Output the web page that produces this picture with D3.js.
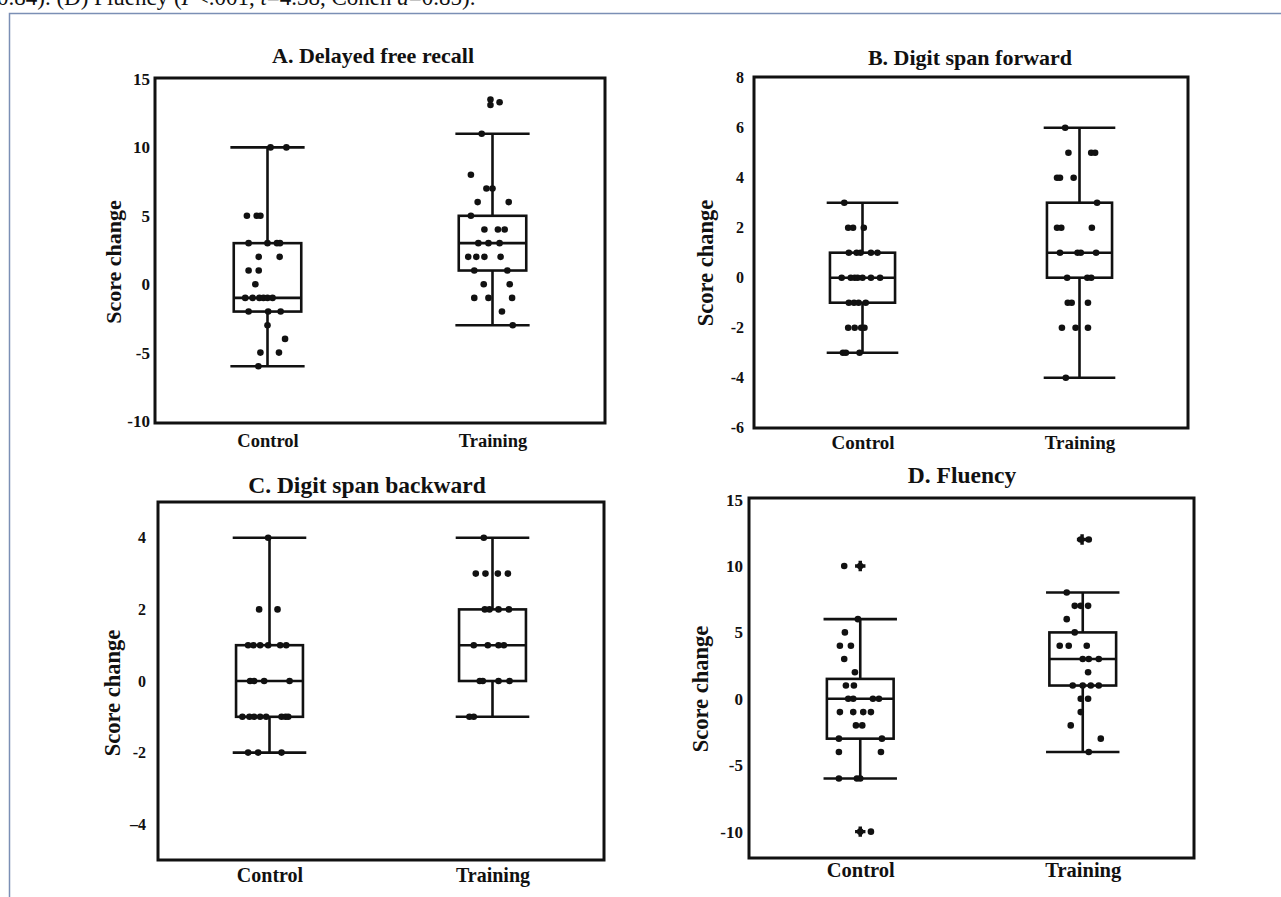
<!DOCTYPE html>
<html>
<head>
<meta charset="utf-8">
<script src="https://cdn.jsdelivr.net/npm/d3@7"></script>
<style>
  body { margin: 0; background: #fff; }
  svg { display: block; font-family: "Liberation Serif", "Times New Roman", serif; }
</style>
</head>
<body>
<script>
const width = 1281;
const height = 897;
const ink = "#111";

const groups = ["Control", "Training"];
const titles = ["A. Delayed free recall", "B. Digit span forward", "C. Digit span backward", "D. Fluency"];
const yLabel = "Score change";

// box stats per group: [min, q1, median, q3, max]
// jitter is in units of half a box width
const recallTicks = [-10, -5, 0, 5, 10, 15];
const recallTickLabels = ["-10", "-5", "0", "5", "10", "15"];
const recallStats = [[-6, -2, -1, 3, 10], [-3, 1, 3, 5, 11]];
const recallControl = [10, 10, 5, 5, 5, 3, 3, 3, 3, 2, 2, 1, 1, 0, -1, -1, -1, -1, -1, -1, -2, -2, -2, -3, -4, -5, -5, -6];
const recallControlJitter = [0.09, 0.56, -0.61, -0.32, -0.21, -0.56, 0, 0.28, 0.37, -0.26, 0.36, -0.56, -0.26, -0.36, -0.66, -0.44, -0.24, -0.12, 0, 0.15, -0.56, 0.02, 0.39, 0, 0.52, -0.21, 0.34, -0.27];
const recallTraining = [13.1, 13.5, 13.3, 11, 8, 7, 7, 6, 6, 5, 4, 4, 4, 3, 3, 3, 2, 2, 2, 2, 1, 1, 0, 0, -1, -1, -1, -2, -3];
const recallTrainingJitter = [-0.06, -0.06, 0.21, -0.32, -0.64, -0.18, 0, -0.44, 0.48, -0.64, -0.24, 0.16, 0.36, -0.42, -0.12, 0.21, -0.72, -0.48, -0.24, 0.24, -0.54, 0.44, -0.26, 0.51, -0.54, -0.12, 0.58, 0.28, 0.6];

const forwardTicks = [-6, -4, -2, 0, 2, 4, 6, 8];
const forwardTickLabels = ["-6", "-4", "-2", "0", "2", "4", "6", "8"];
const forwardStats = [[-3, -1, 0, 1, 3], [-4, 0, 1, 3, 6]];
const forwardControl = [3, 2, 2, 2, 1, 1, 1, 1, 1, 0, 0, 0, 0, 0, 0, 0, -1, -1, -1, -1, -2, -2, -2, -2, -3, -3, -3];
const forwardControlJitter = [-0.56, -0.44, -0.29, 0.04, -0.42, -0.18, -0.06, 0.26, 0.46, -0.64, -0.36, -0.24, -0.15, 0, 0.26, 0.54, -0.42, -0.26, -0.12, 0.1, -0.44, -0.24, -0.04, 0.06, -0.6, -0.51, -0.09];
const forwardTraining = [6, 5, 5, 5, 4, 4, 4, 3, 2, 2, 2, 1, 1, 1, 1, 0, 0, 0, -1, -1, -1, -2, -2, -2, -4];
const forwardTrainingJitter = [-0.44, -0.34, 0.36, 0.48, -0.69, -0.6, -0.18, 0.54, -0.69, -0.56, 0.38, -0.6, -0.06, 0.04, 0.51, -0.38, 0.24, 0.36, -0.36, -0.24, 0.26, -0.54, -0.12, 0.26, -0.42];

const backwardTicks = [-4, -2, 0, 2, 4];
const backwardTickLabels = ["\u20134", "-2", "0", "2", "4"];
const backwardStats = [[-2, -1, 0, 1, 4], [-1, 0, 1, 2, 4]];
const backwardControl = [4, 2, 2, 1, 1, 1, 1, 1, 1, 0, 0, 0, 0, -1, -1, -1, -1, -1, -1, -1, -1, -2, -2, -2];
const backwardControlJitter = [-0.04, -0.31, 0.24, -0.64, -0.48, -0.28, -0.04, 0.32, 0.5, -0.58, -0.46, -0.16, 0.6, -0.81, -0.6, -0.46, -0.28, -0.1, 0.36, 0.48, 0.56, -0.64, -0.34, 0.36];
const backwardTraining = [4, 3, 3, 3, 3, 2, 2, 2, 2, 1, 1, 1, 1, 0, 0, 0, 0, -1, -1];
const backwardTrainingJitter = [-0.26, -0.5, -0.21, 0.16, 0.46, -0.23, -0.09, 0.18, 0.49, -0.56, -0.14, 0.18, 0.34, -0.38, -0.29, 0.18, 0.51, -0.69, -0.56];

const fluencyTicks = [-10, -5, 0, 5, 10, 15];
const fluencyTickLabels = ["-10", "-5", "0", "5", "10", "15"];
const fluencyStats = [[-6, -3, 0, 1.5, 6], [-4, 1, 3, 5, 8]];
const fluencyControl = [10, 10, 6, 5, 4, 4, 3, 2, 1, 1, 0, 0, 0, 0, -1, -1, -1, -1, -2, -2, -3, -3, -4, -4, -6, -6, -6, -10, -10];
const fluencyControlJitter = [-0.48, 0, -0.07, -0.46, -0.61, -0.28, -0.48, -0.16, -0.43, -0.19, -0.36, -0.21, 0.38, 0.56, -0.61, -0.21, 0.09, 0.32, -0.13, 0.06, -0.64, 0.65, -0.64, 0.62, -0.64, -0.1, 0, 0, 0.32];
const fluencyTraining = [12, 12, 8, 7, 7, 7, 6, 5, 4, 4, 4, 3, 3, 3, 2, 1, 1, 1, 1, 0, 0, -1, -2, -3, -4];
const fluencyTrainingJitter = [-0.06, 0.18, -0.48, -0.24, -0.06, 0.16, -0.48, -0.24, -0.69, -0.42, 0.12, 0, 0.18, 0.48, 0.16, -0.3, 0, 0.24, 0.48, -0.06, 0.16, -0.06, -0.36, 0.54, 0.18];
const fluencyOutControl = [10, -10];
const fluencyOutControlJitter = [0, 0];
const fluencyOutTraining = [12];
const fluencyOutTrainingJitter = [-0.02];

// layout of the four panels (pixels)
const layout = [
    {x0: 155, x1: 605, y0: 78, y1: 423, domain: [-10, 15], range: [421, 79], tickGap: 5, tickFont: 17,
        title: [373, 63, 22], ylab: [121, 262, 22], xPad: 11, xFont: 18.5},
    {x0: 754, x1: 1188, y0: 77, y1: 428, domain: [-6, 8], range: [427.7, 77.7], tickGap: 10, tickFont: 16,
        title: [970, 65, 22], ylab: [713, 263, 22.5], xPad: 8, xFont: 19},
    {x0: 158, x1: 604, y0: 502, y1: 860, domain: [-5, 5], range: [860, 502], tickGap: 12, tickFont: 16,
        title: [367, 493, 23.5], ylab: [120, 693, 22.5], xPad: 8, xFont: 20},
    {x0: 749, x1: 1194, y0: 498, y1: 858, domain: [-12, 15], range: [858.2, 499.6], tickGap: 6, tickFont: 17,
        title: [962, 483, 23.5], ylab: [708, 689, 22.5], xPad: 4, xFont: 20.5}
];

const panels = [
    {ticks: recallTicks, tickLabels: recallTickLabels, stats: recallStats,
        values: [recallControl, recallTraining], jitter: [recallControlJitter, recallTrainingJitter]},
    {ticks: forwardTicks, tickLabels: forwardTickLabels, stats: forwardStats,
        values: [forwardControl, forwardTraining], jitter: [forwardControlJitter, forwardTrainingJitter]},
    {ticks: backwardTicks, tickLabels: backwardTickLabels, stats: backwardStats,
        values: [backwardControl, backwardTraining], jitter: [backwardControlJitter, backwardTrainingJitter]},
    {ticks: fluencyTicks, tickLabels: fluencyTickLabels, stats: fluencyStats,
        values: [fluencyControl, fluencyTraining], jitter: [fluencyControlJitter, fluencyTrainingJitter],
        outliers: [fluencyOutControl, fluencyOutTraining], outJitter: [fluencyOutControlJitter, fluencyOutTrainingJitter]}
];

let svg = d3.select("body").append("svg")
    .attr("width", width)
    .attr("height", height);

svg.append("rect")
    .attr("width", width)
    .attr("height", height)
    .attr("fill", "#fff");

// caption line from the page above the figure, clipped by the top edge as in the scan
let caption = svg.append("text")
    .attr("x", -3)
    .attr("y", 5)
    .attr("font-size", 23)
    .attr("fill", ink);
caption.append("tspan").text("0.84). (D) Fluency (");
caption.append("tspan").attr("font-style", "italic").text("P");
caption.append("tspan").text("<.001, ");
caption.append("tspan").attr("font-style", "italic").text("t");
caption.append("tspan").text("=4.38, Cohen ");
caption.append("tspan").attr("font-style", "italic").text("d");
caption.append("tspan").text("=0.85).");

// figure border
svg.append("path")
    .attr("d", `M9.5,${height}V13.5H${width}`)
    .attr("fill", "none")
    .attr("stroke", "#7b8fb5")
    .attr("stroke-width", 1.5);

panels.forEach((p, i) => drawPanel(p, layout[i], titles[i]));

function drawPanel(p, L, title) {
    let g = svg.append("g");

    let x = d3.scalePoint()
        .domain(groups)
        .range([L.x0, L.x1])
        .padding(0.5);
    let y = d3.scaleLinear()
        .domain(L.domain)
        .range(L.range);

    const boxW = x.step() * 0.3;
    const capW = x.step() * 0.165;

    g.append("text")
        .attr("x", L.title[0])
        .attr("y", L.title[1])
        .attr("text-anchor", "middle")
        .attr("font-weight", "bold")
        .attr("font-size", L.title[2])
        .attr("fill", ink)
        .text(title);

    g.append("text")
        .attr("transform", `translate(${L.ylab[0]},${L.ylab[1]})rotate(-90)`)
        .attr("text-anchor", "middle")
        .attr("font-weight", "bold")
        .attr("font-size", L.ylab[2])
        .attr("fill", ink)
        .text(yLabel);

    let yAxis = g.append("g")
        .attr("transform", `translate(${L.x0},0)`)
        .call(d3.axisLeft(y)
            .tickValues(p.ticks)
            .tickFormat((d, k) => p.tickLabels[k])
            .tickSize(0)
            .tickPadding(L.tickGap));
    yAxis.select(".domain").remove();
    yAxis.selectAll("text")
        .attr("font-family", "Liberation Serif, serif")
        .attr("font-weight", "bold")
        .attr("font-size", L.tickFont)
        .attr("fill", ink);

    let xAxis = g.append("g")
        .attr("transform", `translate(0,${L.y1})`)
        .call(d3.axisBottom(x)
            .tickSize(0)
            .tickPadding(L.xPad));
    xAxis.select(".domain").remove();
    xAxis.selectAll("text")
        .attr("font-family", "Liberation Serif, serif")
        .attr("font-weight", "bold")
        .attr("font-size", L.xFont)
        .attr("fill", ink);

    g.append("rect")
        .attr("x", L.x0)
        .attr("y", L.y0)
        .attr("width", L.x1 - L.x0)
        .attr("height", L.y1 - L.y0)
        .attr("fill", "none")
        .attr("stroke", ink)
        .attr("stroke-width", 3);

    groups.forEach((grp, k) => {
        const [mn, q1, med, q3, mx] = p.stats[k];
        const cx = x(grp);
        let b = g.append("g")
            .attr("stroke", ink)
            .attr("stroke-width", 2.6)
            .attr("fill", "none");

        b.append("line").attr("x1", cx).attr("x2", cx).attr("y1", y(mx)).attr("y2", y(q3));
        b.append("line").attr("x1", cx).attr("x2", cx).attr("y1", y(q1)).attr("y2", y(mn));
        b.append("line").attr("x1", cx - capW).attr("x2", cx + capW).attr("y1", y(mx)).attr("y2", y(mx));
        b.append("line").attr("x1", cx - capW).attr("x2", cx + capW).attr("y1", y(mn)).attr("y2", y(mn));
        b.append("rect")
            .attr("x", cx - boxW / 2)
            .attr("y", y(q3))
            .attr("width", boxW)
            .attr("height", y(q1) - y(q3));
        b.append("line").attr("x1", cx - boxW / 2).attr("x2", cx + boxW / 2).attr("y1", y(med)).attr("y2", y(med));

        g.append("g")
            .selectAll("circle")
            .data(p.values[k])
            .enter()
            .append("circle")
            .attr("cx", (d, j) => cx + p.jitter[k][j] * boxW / 2)
            .attr("cy", d => y(d))
            .attr("r", 3.3)
            .attr("fill", ink);

        if (p.outliers) {
            let sym = d3.symbol().type(d3.symbolCross).size(60);
            g.append("g")
                .selectAll("path")
                .data(p.outliers[k])
                .enter()
                .append("path")
                .attr("transform", (d, j) => `translate(${cx + p.outJitter[k][j] * boxW / 2},${y(d)})`)
                .attr("d", sym)
                .attr("fill", ink);
        }
    });
}
</script>
</body>
</html>
